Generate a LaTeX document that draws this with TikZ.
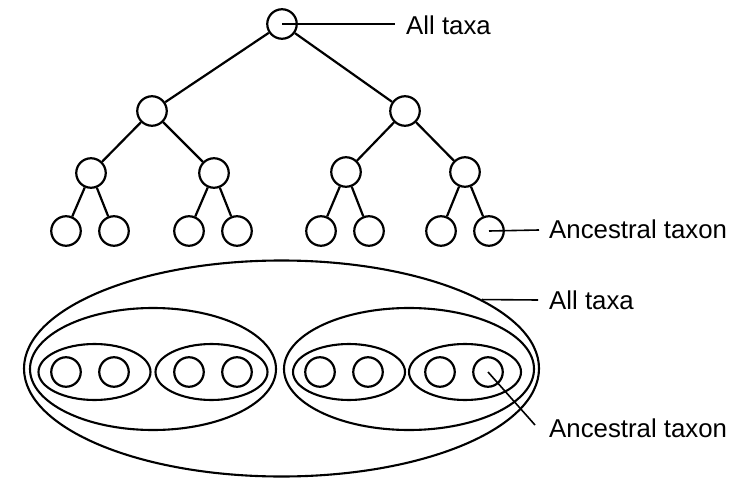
\documentclass[tikz,border=0pt]{standalone}
\usepackage{fontspec}
\setmainfont{Liberation Sans}
\usetikzlibrary{shapes.geometric}
\begin{document}
\begin{tikzpicture}[x=1pt,y=-1pt,
  taxon/.style={circle,draw,line width=2.2pt,minimum size=29.5pt,inner sep=0pt},
  edge/.style={line width=2.2pt},
  ring/.style={ellipse,draw,line width=2.1pt,inner sep=0pt},
  pointer/.style={line width=1.6pt},
  lbl/.style={anchor=west,inner sep=0pt,font=\fontsize{25.8}{30}\selectfont}]
\fill[white] (0,0) rectangle (743,478);
\useasboundingbox (0,0) rectangle (743,478);
% tree
\node[taxon] (r) at (282,24) {};
\node[taxon] (a) at (152,111) {};
\node[taxon] (b) at (405,111) {};
\node[taxon] (a1) at (91,173) {};
\node[taxon] (a2) at (214,173) {};
\node[taxon] (b1) at (346,172) {};
\node[taxon] (b2) at (465,172) {};
\node[taxon] (l1) at (66,231) {};
\node[taxon] (l2) at (114,231) {};
\node[taxon] (l3) at (189,231) {};
\node[taxon] (l4) at (237,231) {};
\node[taxon] (l5) at (321,231) {};
\node[taxon] (l6) at (369,231) {};
\node[taxon] (l7) at (441,231) {};
\node[taxon] (l8) at (489,231) {};
\draw[edge] (r) -- (a);
\draw[edge] (r) -- (b);
\draw[edge] (a) -- (a1);
\draw[edge] (a) -- (a2);
\draw[edge] (b) -- (b1);
\draw[edge] (b) -- (b2);
\draw[edge] (a1) -- (l1);
\draw[edge] (a1) -- (l2);
\draw[edge] (a2) -- (l3);
\draw[edge] (a2) -- (l4);
\draw[edge] (b1) -- (l5);
\draw[edge] (b1) -- (l6);
\draw[edge] (b2) -- (l7);
\draw[edge] (b2) -- (l8);
\node[lbl] (t1) at (406,25) {All taxa};
\coordinate (t1e) at (395,24);
\draw[pointer] (r.center) -- (t1e);
\node[lbl] (t2) at (549,229) {Ancestral taxon};
\coordinate (t2e) at (539,230);
\draw[pointer] (l8.center) -- (t2e);
% nested sets
\node[ring,minimum width=515pt,minimum height=216pt] (big) at (281.5,368.5) {};
\node[ring,minimum width=246pt,minimum height=122pt] (ml) at (153,369) {};
\node[ring,minimum width=250pt,minimum height=122pt] (mr) at (409,369) {};
\node[ring,minimum width=112pt,minimum height=56pt] (s1) at (94.5,372) {};
\node[ring,minimum width=112pt,minimum height=56pt] (s2) at (211.5,372) {};
\node[ring,minimum width=112pt,minimum height=56pt] (s3) at (349,372) {};
\node[ring,minimum width=112pt,minimum height=56pt] (s4) at (465,372) {};
\node[taxon] (c1) at (66,372) {};
\node[taxon] (c2) at (114,372) {};
\node[taxon] (c3) at (189,372) {};
\node[taxon] (c4) at (237,372) {};
\node[taxon] (c5) at (320,372) {};
\node[taxon] (c6) at (368,372) {};
\node[taxon] (c7) at (440,372) {};
\node[taxon] (c8) at (488,372) {};
\node[lbl] (t3) at (549,300) {All taxa};
\coordinate (t3e) at (538,300);
\draw[pointer] (big.19) -- (t3e);
\node[lbl] (t4) at (549,428) {Ancestral taxon};
\coordinate (t4e) at (535,425);
\draw[pointer] (c8.center) -- (t4e);
\end{tikzpicture}
\end{document}
